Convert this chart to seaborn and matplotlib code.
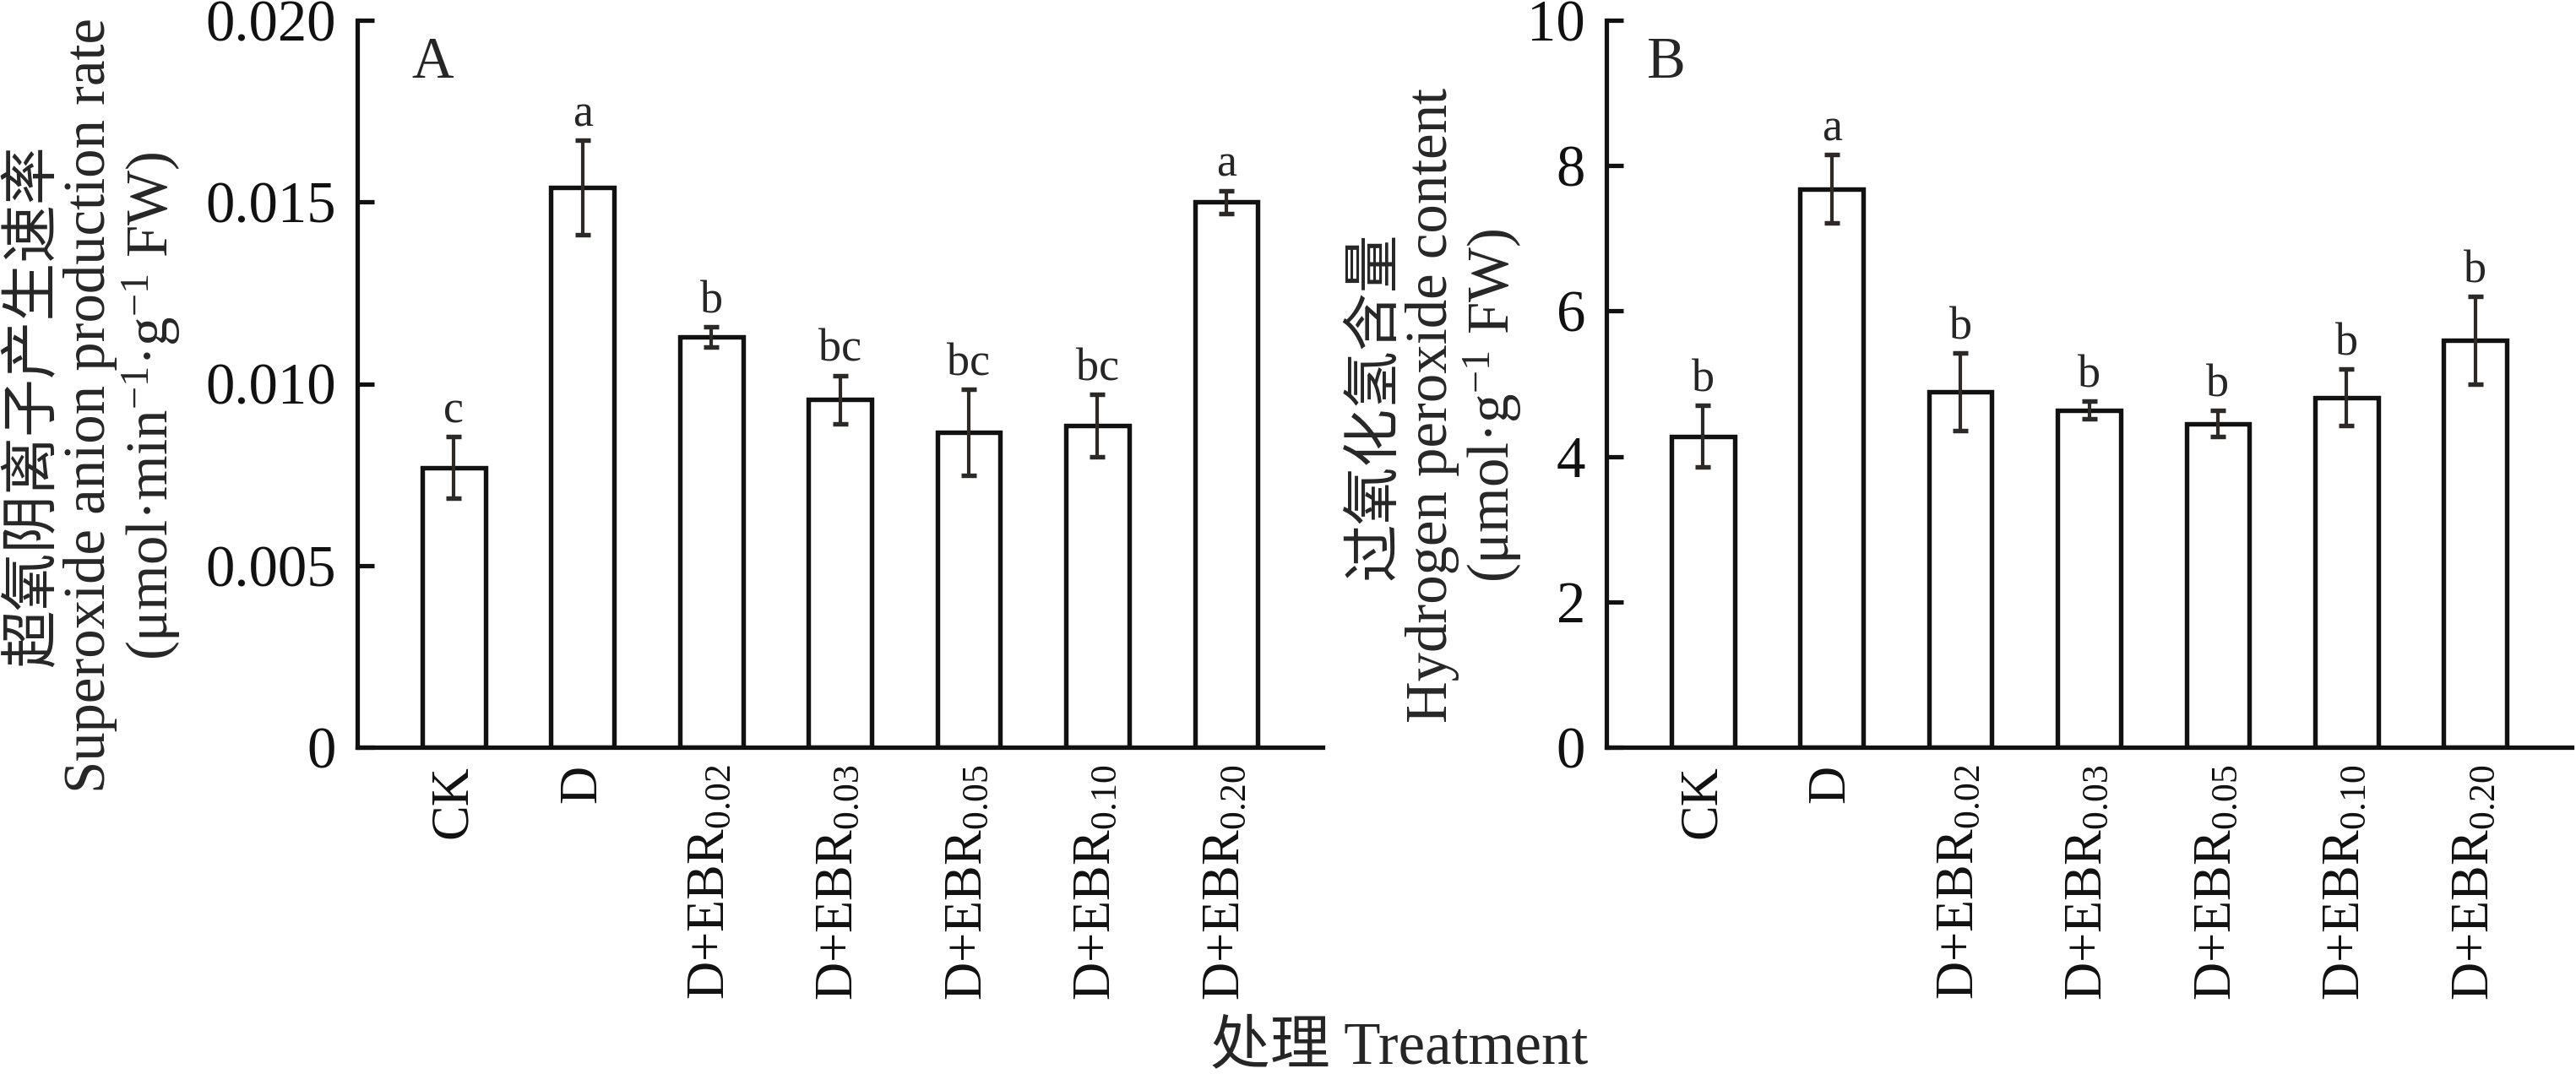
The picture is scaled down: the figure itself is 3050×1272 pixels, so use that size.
import matplotlib
matplotlib.use("Agg")
import matplotlib.pyplot as plt
import numpy as np
import pandas as pd
import seaborn as sns

# treatments
treatments = ["CK", "D", "D+EBR$_{\\mathrm{0.02}}$", "D+EBR$_{\\mathrm{0.03}}$",
              "D+EBR$_{\\mathrm{0.05}}$", "D+EBR$_{\\mathrm{0.10}}$", "D+EBR$_{\\mathrm{0.20}}$"]

# A: superoxide anion production rate
o2_mean = [0.0077, 0.0154, 0.01128, 0.00956, 0.00866, 0.00885, 0.0150]
o2_err = [0.00084, 0.0013, 0.00028, 0.00067, 0.00118, 0.00086, 0.00032]
o2_sig = ["c", "a", "b", "bc", "bc", "bc", "a"]

# B: hydrogen peroxide content
h2o2_mean = [4.28, 7.68, 4.89, 4.64, 4.45, 4.81, 5.60]
h2o2_err = [0.42, 0.47, 0.53, 0.12, 0.18, 0.39, 0.60]
h2o2_sig = ["b", "a", "b", "b", "b", "b", "b"]

sns.set_theme(style="ticks")
plt.rcParams["font.family"] = ["Liberation Serif", "Noto Sans CJK SC"]
plt.rcParams["mathtext.fontset"] = "custom"
plt.rcParams["mathtext.rm"] = "Liberation Serif"
plt.rcParams["mathtext.it"] = "Liberation Serif:italic"
plt.rcParams["axes.unicode_minus"] = True

fig = plt.figure(figsize=(3050 / 300, 1272 / 300), dpi=300)
axA = fig.add_axes([0.1387, 0.3042, 0.3748, 0.6769])
axB = fig.add_axes([0.6236, 0.3042, 0.3748, 0.6769])


def panel(ax, means, errs, sig, ylim, yticks, yticklabels, ylabel, label_x, letter, letter_x):
    df = pd.DataFrame({"treatment": treatments, "value": means})
    sns.barplot(data=df, x="treatment", y="value", ax=ax, color="white",
                edgecolor="#111111", linewidth=1.3, width=0.49, saturation=1)
    ax.errorbar(np.arange(len(means)), means, yerr=errs, fmt="none",
                ecolor="#2d2926", elinewidth=1.0, capsize=2.2, capthick=1.3, zorder=3)
    for i, (m, e, s) in enumerate(zip(means, errs, sig)):
        ax.annotate(s, (i, m + e), xytext=(0, 4), textcoords="offset points",
                    ha="center", va="baseline", fontsize=13)
    ax.set_xlim(-0.75, 6.75)
    ax.set_ylim(*ylim)
    ax.set_yticks(yticks)
    ax.set_yticklabels(yticklabels)
    ax.set_xticks(np.arange(len(treatments)))
    ax.set_xticklabels(treatments, rotation=90)
    ax.set_xlabel("")
    ax.set_ylabel(ylabel, fontsize=16.5, linespacing=1.05, va="center")
    ax.yaxis.set_label_coords(label_x, 0.47)
    sns.despine(ax=ax)
    for sp in ["left", "bottom"]:
        ax.spines[sp].set_linewidth(1.25)
        ax.spines[sp].set_color("#111111")
    ax.tick_params(axis="y", direction="in", length=4.8, width=1.25, labelsize=16.5,
                   pad=6, colors="#111111")
    ax.tick_params(axis="x", direction="in", length=2, width=1.0, labelsize=15,
                   pad=5, colors="#111111")
    ax.text(letter_x, 0.921, letter, transform=ax.transAxes, fontsize=16.5,
            ha="left", va="baseline")


panel(axA, o2_mean, o2_err, o2_sig, (0, 0.020),
      [0, 0.005, 0.010, 0.015, 0.020], ["0", "0.005", "0.010", "0.015", "0.020"],
      "超氧阴离子产生速率\nSuperoxide anion production rate\n(μmol·min$^{-1}$·g$^{-1}$ FW)",
      -0.272, "A", 0.056)
panel(axB, h2o2_mean, h2o2_err, h2o2_sig, (0, 10),
      [0, 2, 4, 6, 8, 10], ["0", "2", "4", "6", "8", "10"],
      "过氧化氢含量\nHydrogen peroxide content\n(μmol·g$^{-1}$ FW)",
      -0.176, "B", 0.042)

fig.text(0.5433, 0.024, "处理 Treatment", ha="center", va="center", fontsize=17)

fig.savefig("out.png", dpi=300)
